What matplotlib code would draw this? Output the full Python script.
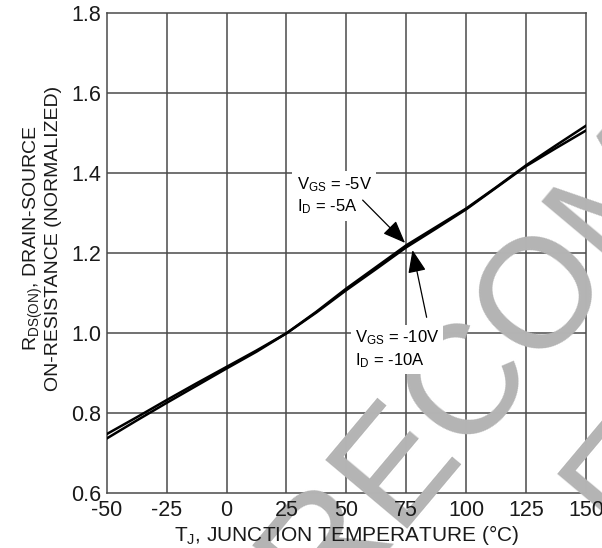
import matplotlib
matplotlib.use("Agg")
import matplotlib.pyplot as plt

plt.rcParams['font.family'] = ['Liberation Sans', 'DejaVu Sans']
plt.rcParams['mathtext.default'] = 'regular'

# Data
temp_c = [-50, -37.5, -25, -12.5, 0, 12.5, 25, 37.5, 50, 62.5, 75, 87.5, 100, 112.5, 125, 137.5, 150]
rds_5v = [0.748, 0.790, 0.833, 0.875, 0.916, 0.957, 1.000, 1.054, 1.112, 1.166, 1.220, 1.266, 1.312, 1.365, 1.420, 1.470, 1.519]
rds_10v = [0.737, 0.782, 0.826, 0.869, 0.912, 0.954, 1.000, 1.052, 1.108, 1.161, 1.215, 1.262, 1.310, 1.364, 1.418, 1.463, 1.507]

x_ticks = [-50, -25, 0, 25, 50, 75, 100, 125, 150]
x_tick_labels = ['-50', '-25', '0', '25', '50', '75', '100', '125', '150']
y_ticks = [0.6, 0.8, 1.0, 1.2, 1.4, 1.6, 1.8]
y_tick_labels = ['0.6', '0.8', '1.0', '1.2', '1.4', '1.6', '1.8']

W, H = 602, 548
fig = plt.figure(figsize=(W/100, H/100), dpi=100)
ax = fig.add_axes([106.7/W, 1-493.3/H, (586-106.7)/W, (493.3-13.3)/H])
ax.set_axisbelow(False)

grid_c = '#4a4a4a'
for xv in x_ticks[1:-1]:
    ax.axvline(xv, color=grid_c, lw=1.1, zorder=1)
for yv in y_ticks[1:-1]:
    ax.axhline(yv, color=grid_c, lw=1.1, zorder=1)
for s in ax.spines.values():
    s.set_color(grid_c)
    s.set_linewidth(1.1)
    s.set_zorder(1)

ax.plot(temp_c, rds_5v, color='black', lw=1.8, zorder=4)
ax.plot(temp_c, rds_10v, color='black', lw=1.8, zorder=4)

ax.set_xlim(-50, 150)
ax.set_ylim(0.6, 1.8)
ax.set_xticks(x_ticks)
ax.set_xticklabels(x_tick_labels)
ax.set_yticks(y_ticks)
ax.set_yticklabels(y_tick_labels)
ax.tick_params(length=0, labelsize=15.5, colors='#1a1a1a')
ax.tick_params(axis='x', pad=4.5)
ax.tick_params(axis='y', pad=4)
ax.set_xlabel('T$_J$, JUNCTION TEMPERATURE (\u00b0C)', fontsize=15, color='#1a1a1a', labelpad=1.5)
ax.set_ylabel('R$_{DS(ON)}$, DRAIN-SOURCE\nON-RESISTANCE (NORMALIZED)', fontsize=14,
              color='#1a1a1a', linespacing=1.0)
ax.yaxis.set_label_coords(-0.093, 0.532)

# watermark (above grid, below tick labels, curves and annotations)
wm = dict(transform=fig.transFigure, fontsize=112, color='#b4b4b4', rotation=50,
          ha='left', va='baseline', rotation_mode='anchor', zorder=2, clip_on=False)
ax.text(90.8/W, 1-907.2/H, 'NOT RECOMMENDED', **wm)
ax.text(632.3/W, 1-553.1/H, 'FOR NEW DESIGN', **wm)

# annotations
bbox = dict(boxstyle='square,pad=0.25', fc='white', ec='none')
ax.text(29.2, 1.396, 'V$_{GS}$ = -5V\nI$_D$ = -5A', fontsize=12, ha='left', va='top',
        bbox=bbox, zorder=5, linespacing=1.3)
ax.text(53.5, 1.0115, 'V$_{GS}$ = -10V\nI$_D$ = -10A', fontsize=12, ha='left', va='top',
        bbox=bbox, zorder=5, linespacing=1.3)
arrow = dict(arrowstyle='-|>,head_length=0.7,head_width=0.28', mutation_scale=20, lw=0.9,
             color='black', shrinkA=0, shrinkB=0)
ax.annotate('', xy=(74.5, 1.226), xytext=(56.8, 1.333), arrowprops=arrow, zorder=6)
ax.annotate('', xy=(77.6, 1.208), xytext=(83.5, 1.04), arrowprops=arrow, zorder=6)

fig.savefig('out.png', dpi=100)
